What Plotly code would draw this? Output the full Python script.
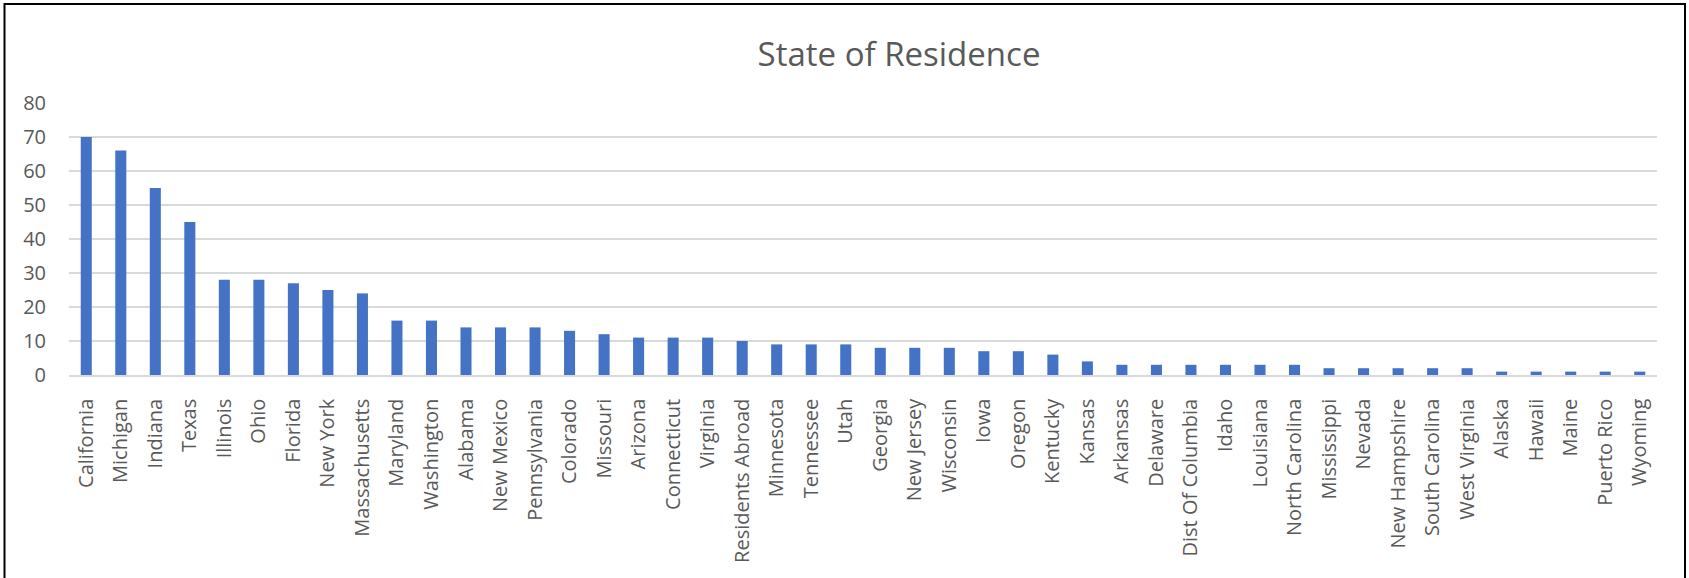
import plotly.graph_objects as go

states = ["California", "Michigan", "Indiana", "Texas", "Illinois", "Ohio", "Florida",
          "New York", "Massachusetts", "Maryland", "Washington", "Alabama", "New Mexico",
          "Pennsylvania", "Colorado", "Missouri", "Arizona", "Connecticut", "Virginia",
          "Residents Abroad", "Minnesota", "Tennessee", "Utah", "Georgia", "New Jersey",
          "Wisconsin", "Iowa", "Oregon", "Kentucky", "Kansas", "Arkansas", "Delaware",
          "Dist Of Columbia", "Idaho", "Louisiana", "North Carolina", "Mississippi",
          "Nevada", "New Hampshire", "South Carolina", "West Virginia", "Alaska",
          "Hawaii", "Maine", "Puerto Rico", "Wyoming"]
counts = [70, 66, 55, 45, 28, 28, 27, 25, 24, 16, 16, 14, 14, 14, 13, 12, 11, 11, 11,
          10, 9, 9, 9, 8, 8, 8, 7, 7, 6, 4, 3, 3, 3, 3, 3, 3, 2, 2, 2, 2, 2, 1, 1, 1, 1, 1]
y_ticks = [0, 10, 20, 30, 40, 50, 60, 70, 80]
title_text = "State of Residence"

W, H = 1689, 578
ml, mr, mt, mb = 69, 32, 103, 203
pw, ph = W - ml - mr, H - mt - mb

FONT = "Open Sans"
GRAY = "#595959"

fig = go.Figure(go.Bar(
    x=states, y=counts,
    marker=dict(color="#4472C4", line=dict(width=0)),
))

def px_to_paper_x(p):
    return (p - ml) / pw

def px_to_paper_y(p):
    return (H - mb - p) / ph

fig.update_layout(
    width=W, height=H,
    margin=dict(l=ml, r=mr, t=mt, b=mb, autoexpand=False),
    paper_bgcolor="white", plot_bgcolor="white",
    bargap=0.68,
    showlegend=False,
    title=dict(text=title_text, x=899 / W, xref="container", xanchor="center",
               y=1 - 54 / H, yref="container", yanchor="middle",
               font=dict(family=FONT, size=33, color=GRAY)),
    xaxis=dict(type="category", tickangle=-90, showgrid=False, ticks="",
               showline=True, linecolor="#D9D9D9", linewidth=1.5,
               tickfont=dict(family=FONT, size=20, color=GRAY),
               ticklabelstandoff=14),
    yaxis=dict(range=[0, 80], tickvals=y_ticks, showgrid=True, gridcolor="#D9D9D9",
               gridwidth=1.5, zeroline=False, showline=False, ticks="",
               tickfont=dict(family=FONT, size=20, color=GRAY),
               ticklabelstandoff=22),
    shapes=[dict(type="rect", xref="paper", yref="paper",
                 x0=px_to_paper_x(4.5), x1=px_to_paper_x(1685),
                 y0=px_to_paper_y(590), y1=px_to_paper_y(4),
                 line=dict(color="black", width=2), fillcolor="rgba(0,0,0,0)",
                 layer="below")],
)

fig.write_html("out.html", config={"displayModeBar": False},
               post_script="document.body.style.margin='0';document.body.style.overflow='hidden';")
